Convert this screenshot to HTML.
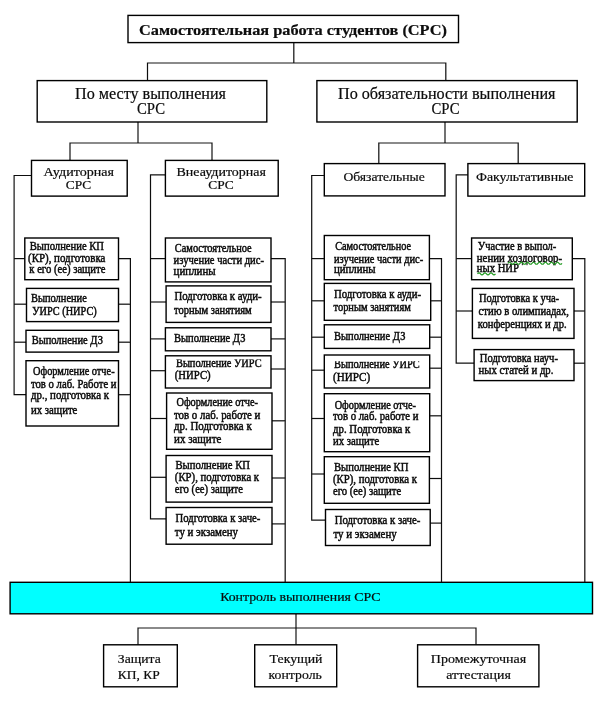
<!DOCTYPE html>
<html lang="ru"><head><meta charset="utf-8"><title>СРС</title>
<style>
html,body{margin:0;padding:0;background:#fff}
svg{display:block}
text{font-family:"Liberation Serif",serif;fill:#0a0a0a;stroke:#0a0a0a;stroke-width:.2}
text.s{stroke-width:.45}
.b{fill:#fff;stroke:#000;stroke-width:1.4}
.l{fill:none;stroke:#111;stroke-width:1.2}
</style></head><body>
<svg width="605" height="706" viewBox="0 0 605 706">
<rect width="605" height="706" fill="#fff"/>
<filter id="soft" x="0" y="0" width="605" height="706" filterUnits="userSpaceOnUse"><feGaussianBlur stdDeviation="0.35"/></filter>
<g filter="url(#soft)">
<polyline class="l" points="293.8,42.6 293.8,63.0"/>
<polyline class="l" points="147.5,80.6 147.5,63.0 445.8,63.0 445.8,80.6"/>
<polyline class="l" points="138.0,122.0 138.0,143.0"/>
<polyline class="l" points="70.0,160.4 70.0,143.0 212.0,143.0 212.0,160.4"/>
<polyline class="l" points="445.0,122.0 445.0,143.0"/>
<polyline class="l" points="378.8,163.6 378.8,143.0 518.2,143.0 518.2,163.6"/>
<polyline class="l" points="31.5,175.5 14.1,175.5 14.1,394.7 26.0,394.7"/>
<polyline class="l" points="118.5,258.6 130.4,258.6 130.4,582.2"/>
<polyline class="l" points="14.1,258.6 24.8,258.6"/>
<polyline class="l" points="14.1,304.2 26.5,304.2"/>
<polyline class="l" points="118.5,304.2 130.4,304.2"/>
<polyline class="l" points="14.1,342.2 26.0,342.2"/>
<polyline class="l" points="118.5,342.2 130.4,342.2"/>
<polyline class="l" points="118.5,394.7 130.4,394.7"/>
<polyline class="l" points="165.4,174.8 150.5,174.8 150.5,518.9 166.1,518.9"/>
<polyline class="l" points="271.0,258.6 285.2,258.6 285.2,582.2"/>
<polyline class="l" points="150.5,258.6 165.4,258.6"/>
<polyline class="l" points="150.5,302.0 166.1,302.0"/>
<polyline class="l" points="271.0,302.0 285.2,302.0"/>
<polyline class="l" points="150.5,338.9 165.4,338.9"/>
<polyline class="l" points="271.0,338.9 285.2,338.9"/>
<polyline class="l" points="150.5,370.7 165.4,370.7"/>
<polyline class="l" points="271.0,369.0 285.2,369.0"/>
<polyline class="l" points="150.5,418.5 166.6,418.5"/>
<polyline class="l" points="272.0,420.8 285.2,420.8"/>
<polyline class="l" points="150.5,477.3 166.1,477.3"/>
<polyline class="l" points="272.0,478.0 285.2,478.0"/>
<polyline class="l" points="272.0,523.9 285.2,523.9"/>
<polyline class="l" points="324.3,175.5 311.7,175.5 311.7,520.2 325.5,520.2"/>
<polyline class="l" points="429.4,258.6 441.5,258.6 441.5,582.2"/>
<polyline class="l" points="311.7,258.6 324.3,258.6"/>
<polyline class="l" points="311.7,300.8 324.3,300.8"/>
<polyline class="l" points="430.7,300.8 441.5,300.8"/>
<polyline class="l" points="311.7,337.2 324.3,337.2"/>
<polyline class="l" points="429.7,337.2 441.5,337.2"/>
<polyline class="l" points="311.7,370.2 324.3,370.2"/>
<polyline class="l" points="429.7,368.2 441.5,368.2"/>
<polyline class="l" points="311.7,418.5 324.3,418.5"/>
<polyline class="l" points="429.7,415.8 441.5,415.8"/>
<polyline class="l" points="311.7,474.0 324.3,474.0"/>
<polyline class="l" points="429.4,478.5 441.5,478.5"/>
<polyline class="l" points="430.2,523.1 441.5,523.1"/>
<polyline class="l" points="467.9,174.8 456.2,174.8 456.2,363.2 474.1,363.2"/>
<polyline class="l" points="572.3,258.6 584.8,258.6 584.8,582.2"/>
<polyline class="l" points="456.2,258.6 471.6,258.6"/>
<polyline class="l" points="456.2,311.0 472.4,311.0"/>
<polyline class="l" points="574.0,311.0 584.8,311.0"/>
<polyline class="l" points="574.0,363.2 584.8,363.2"/>
<polyline class="l" points="296.0,614.1 296.0,644.8"/>
<polyline class="l" points="138.0,644.8 138.0,628.0 476.0,628.0 476.0,644.8"/>
<rect x="10.1" y="582.3" width="582.4" height="31.5" fill="#00ffff" stroke="#000" stroke-width="1.4"/>
<text x="220.2" y="601" font-size="13.2" textLength="160.4" lengthAdjust="spacingAndGlyphs">Контроль выполнения СРС</text>
<rect class="b" x="128.0" y="15.4" width="330.5" height="27.2"/>
<rect class="b" x="37.2" y="80.6" width="229.6" height="41.4"/>
<rect class="b" x="316.9" y="80.6" width="260.3" height="41.4"/>
<rect class="b" x="31.5" y="160.4" width="95.7" height="35.7"/>
<rect class="b" x="165.4" y="160.4" width="112.8" height="35.7"/>
<rect class="b" x="324.3" y="163.6" width="120.7" height="32.3"/>
<rect class="b" x="467.9" y="163.6" width="116.8" height="32.5"/>
<rect class="b" x="24.8" y="238.0" width="93.7" height="41.7"/>
<rect class="b" x="26.5" y="288.4" width="92.0" height="33.2"/>
<rect class="b" x="26.0" y="330.3" width="92.5" height="21.8"/>
<rect class="b" x="26.0" y="360.7" width="92.5" height="65.3"/>
<rect class="b" x="165.4" y="238.0" width="105.6" height="43.9"/>
<rect class="b" x="166.1" y="285.9" width="104.9" height="36.5"/>
<rect class="b" x="165.4" y="327.8" width="105.6" height="23.0"/>
<rect class="b" x="165.4" y="355.8" width="105.6" height="32.2"/>
<rect class="b" x="166.6" y="393.0" width="105.4" height="56.3"/>
<rect class="b" x="166.1" y="455.5" width="105.9" height="46.6"/>
<rect class="b" x="166.1" y="507.5" width="105.9" height="36.7"/>
<rect class="b" x="324.3" y="235.5" width="105.1" height="44.2"/>
<rect class="b" x="324.3" y="283.4" width="106.4" height="36.9"/>
<rect class="b" x="324.3" y="324.8" width="105.4" height="23.6"/>
<rect class="b" x="324.3" y="355.0" width="105.4" height="33.0"/>
<rect class="b" x="324.3" y="393.7" width="105.4" height="58.0"/>
<rect class="b" x="324.3" y="456.7" width="105.1" height="46.6"/>
<rect class="b" x="325.5" y="509.5" width="104.7" height="36.0"/>
<rect class="b" x="471.6" y="238.0" width="100.7" height="41.7"/>
<rect class="b" x="472.4" y="288.4" width="101.6" height="50.0"/>
<rect class="b" x="474.1" y="349.6" width="99.9" height="31.0"/>
<rect class="b" x="103.6" y="644.8" width="73.7" height="42.0"/>
<rect class="b" x="254.7" y="644.8" width="82.0" height="42.0"/>
<rect class="b" x="417.6" y="644.8" width="121.3" height="42.0"/>
<text x="139.0" y="35.1" font-size="15.5" font-weight="bold" textLength="308.0" lengthAdjust="spacingAndGlyphs">Самостоятельная работа студентов (СРС)</text>
<text x="75.0" y="98.6" font-size="16" textLength="151.0" lengthAdjust="spacingAndGlyphs">По месту выполнения</text>
<text x="137.0" y="114.3" font-size="16" textLength="28.0" lengthAdjust="spacingAndGlyphs">СРС</text>
<text x="338.0" y="98.6" font-size="16" textLength="217.5" lengthAdjust="spacingAndGlyphs">По обязательности выполнения</text>
<text x="431.5" y="114.3" font-size="16" textLength="28.0" lengthAdjust="spacingAndGlyphs">СРС</text>
<text x="43.4" y="176.0" font-size="13.5" textLength="70.6" lengthAdjust="spacingAndGlyphs">Аудиторная</text>
<text x="65.7" y="189.0" font-size="13.5" textLength="25.5" lengthAdjust="spacingAndGlyphs">СРС</text>
<text x="176.5" y="176.0" font-size="13.5" textLength="89.5" lengthAdjust="spacingAndGlyphs">Внеаудиторная</text>
<text x="208.3" y="189.0" font-size="13.5" textLength="25.5" lengthAdjust="spacingAndGlyphs">СРС</text>
<text x="343.4" y="180.5" font-size="13.5" textLength="81.3" lengthAdjust="spacingAndGlyphs">Обязательные</text>
<text x="476.0" y="180.5" font-size="13.5" textLength="97.5" lengthAdjust="spacingAndGlyphs">Факультативные</text>
<text x="29.8" y="250.4" font-size="11.5" class="s" textLength="74.2" lengthAdjust="spacingAndGlyphs">Выполнение КП</text>
<text x="28.0" y="261.6" font-size="11.5" class="s" textLength="77.4" lengthAdjust="spacingAndGlyphs">(КР), подготовка</text>
<text x="29.3" y="272.7" font-size="11.5" class="s" textLength="76.1" lengthAdjust="spacingAndGlyphs">к его (ее) защите</text>
<text x="31.0" y="301.7" font-size="11.5" class="s" textLength="55.8" lengthAdjust="spacingAndGlyphs">Выполнение</text>
<text x="32.2" y="314.9" font-size="11.5" class="s" textLength="64.5" lengthAdjust="spacingAndGlyphs">УИРС (НИРС)</text>
<text x="31.7" y="344.1" font-size="11.5" class="s" textLength="71.2" lengthAdjust="spacingAndGlyphs">Выполнение ДЗ</text>
<text x="33.0" y="375.1" font-size="11.5" class="s" textLength="81.6" lengthAdjust="spacingAndGlyphs">Оформление отче-</text>
<text x="31.0" y="387.5" font-size="11.5" class="s" textLength="85.5" lengthAdjust="spacingAndGlyphs">тов о лаб. Работе и</text>
<text x="31.0" y="399.2" font-size="11.5" class="s" textLength="78.0" lengthAdjust="spacingAndGlyphs">др., подготовка к</text>
<text x="31.0" y="414.0" font-size="11.5" class="s" textLength="46.4" lengthAdjust="spacingAndGlyphs">их защите</text>
<text x="174.8" y="252.2" font-size="11.5" class="s" textLength="76.9" lengthAdjust="spacingAndGlyphs">Самостоятельное</text>
<text x="173.6" y="264.0" font-size="11.5" class="s" textLength="90.4" lengthAdjust="spacingAndGlyphs">изучение части дис-</text>
<text x="173.6" y="274.7" font-size="11.5" class="s" textLength="42.1" lengthAdjust="spacingAndGlyphs">циплины</text>
<text x="174.5" y="300.0" font-size="11.5" class="s" textLength="87.1" lengthAdjust="spacingAndGlyphs">Подготовка к ауди-</text>
<text x="174.0" y="314.4" font-size="11.5" class="s" textLength="77.7" lengthAdjust="spacingAndGlyphs">торным занятиям</text>
<text x="174.0" y="341.7" font-size="11.5" class="s" textLength="71.5" lengthAdjust="spacingAndGlyphs">Выполнение ДЗ</text>
<clipPath id="c1"><rect x="174.0" y="359.4" width="89.6" height="20"/></clipPath>
<text x="176.0" y="366.5" font-size="11.5" class="s" clip-path="url(#c1)" textLength="85.6" lengthAdjust="spacingAndGlyphs">Выполнение УИРС</text>
<text x="174.8" y="378.8" font-size="11.5" class="s" textLength="35.9" lengthAdjust="spacingAndGlyphs">(НИРС)</text>
<text x="176.5" y="406.1" font-size="11.5" class="s" textLength="81.4" lengthAdjust="spacingAndGlyphs">Оформление отче-</text>
<text x="174.0" y="418.5" font-size="11.5" class="s" textLength="86.3" lengthAdjust="spacingAndGlyphs">тов о лаб. работе и</text>
<text x="174.0" y="430.2" font-size="11.5" class="s" textLength="77.7" lengthAdjust="spacingAndGlyphs">др. Подготовка к</text>
<text x="174.0" y="442.6" font-size="11.5" class="s" textLength="47.4" lengthAdjust="spacingAndGlyphs">их защите</text>
<text x="175.5" y="469.3" font-size="11.5" class="s" textLength="74.5" lengthAdjust="spacingAndGlyphs">Выполнение КП</text>
<text x="174.8" y="481.0" font-size="11.5" class="s" textLength="84.3" lengthAdjust="spacingAndGlyphs">(КР), подготовка к</text>
<text x="174.8" y="492.6" font-size="11.5" class="s" textLength="68.2" lengthAdjust="spacingAndGlyphs">его (ее) защите</text>
<text x="175.5" y="521.9" font-size="11.5" class="s" textLength="84.8" lengthAdjust="spacingAndGlyphs">Подготовка к заче-</text>
<text x="174.8" y="536.3" font-size="11.5" class="s" textLength="63.2" lengthAdjust="spacingAndGlyphs">ту и экзамену</text>
<text x="335.2" y="249.7" font-size="11.5" class="s" textLength="75.9" lengthAdjust="spacingAndGlyphs">Самостоятельное</text>
<text x="334.0" y="262.8" font-size="11.5" class="s" textLength="89.2" lengthAdjust="spacingAndGlyphs">изучение части дис-</text>
<text x="334.0" y="272.7" font-size="11.5" class="s" textLength="41.6" lengthAdjust="spacingAndGlyphs">циплины</text>
<text x="334.0" y="298.0" font-size="11.5" class="s" textLength="87.0" lengthAdjust="spacingAndGlyphs">Подготовка к ауди-</text>
<text x="333.5" y="311.2" font-size="11.5" class="s" textLength="77.3" lengthAdjust="spacingAndGlyphs">торным занятиям</text>
<text x="334.0" y="339.7" font-size="11.5" class="s" textLength="71.4" lengthAdjust="spacingAndGlyphs">Выполнение ДЗ</text>
<clipPath id="c2"><rect x="332.0" y="361.2" width="89.8" height="20"/></clipPath>
<text x="334.0" y="368.0" font-size="11.5" class="s" clip-path="url(#c2)" textLength="85.8" lengthAdjust="spacingAndGlyphs">Выполнение УИРС</text>
<text x="333.0" y="380.6" font-size="11.5" class="s" textLength="37.2" lengthAdjust="spacingAndGlyphs">(НИРС)</text>
<text x="334.7" y="409.1" font-size="11.5" class="s" textLength="81.3" lengthAdjust="spacingAndGlyphs">Оформление отче-</text>
<text x="333.0" y="420.3" font-size="11.5" class="s" textLength="85.5" lengthAdjust="spacingAndGlyphs">тов о лаб. работе и</text>
<text x="333.0" y="432.7" font-size="11.5" class="s" textLength="77.3" lengthAdjust="spacingAndGlyphs">др. Подготовка к</text>
<text x="333.0" y="445.0" font-size="11.5" class="s" textLength="46.3" lengthAdjust="spacingAndGlyphs">их защите</text>
<text x="334.0" y="471.1" font-size="11.5" class="s" textLength="74.4" lengthAdjust="spacingAndGlyphs">Выполнение КП</text>
<text x="333.0" y="483.0" font-size="11.5" class="s" textLength="84.0" lengthAdjust="spacingAndGlyphs">(КР), подготовка к</text>
<text x="333.0" y="495.1" font-size="11.5" class="s" textLength="68.2" lengthAdjust="spacingAndGlyphs">его (ее) защите</text>
<text x="334.7" y="523.9" font-size="11.5" class="s" textLength="85.6" lengthAdjust="spacingAndGlyphs">Подготовка к заче-</text>
<text x="333.5" y="538.0" font-size="11.5" class="s" textLength="63.2" lengthAdjust="spacingAndGlyphs">ту и экзамену</text>
<text x="477.8" y="250.4" font-size="11.5" class="s" textLength="78.4" lengthAdjust="spacingAndGlyphs">Участие в выпол-</text>
<text x="476.8" y="261.6" font-size="11.5" class="s" textLength="85.3" lengthAdjust="spacingAndGlyphs">нении хоздоговор-</text>
<text x="476.8" y="272.2" font-size="11.5" class="s" textLength="42.2" lengthAdjust="spacingAndGlyphs">ных НИР</text>
<text x="479.0" y="301.7" font-size="11.5" class="s" textLength="80.1" lengthAdjust="spacingAndGlyphs">Подготовка к уча-</text>
<text x="478.6" y="314.5" font-size="11.5" class="s" textLength="90.4" lengthAdjust="spacingAndGlyphs">стию в олимпиадах,</text>
<text x="477.8" y="328.0" font-size="11.5" class="s" textLength="88.8" lengthAdjust="spacingAndGlyphs">конференциях и др.</text>
<text x="479.8" y="361.5" font-size="11.5" class="s" textLength="78.1" lengthAdjust="spacingAndGlyphs">Подготовка науч-</text>
<text x="478.6" y="373.6" font-size="11.5" class="s" textLength="74.8" lengthAdjust="spacingAndGlyphs">ных статей и др.</text>
<text x="117.8" y="662.6" font-size="13.5" textLength="42.9" lengthAdjust="spacingAndGlyphs">Защита</text>
<text x="117.8" y="679.2" font-size="13.5" textLength="42.0" lengthAdjust="spacingAndGlyphs">КП, КР</text>
<text x="269.6" y="662.6" font-size="13.5" textLength="52.9" lengthAdjust="spacingAndGlyphs">Текущий</text>
<text x="268.6" y="679.2" font-size="13.5" textLength="53.2" lengthAdjust="spacingAndGlyphs">контроль</text>
<text x="430.8" y="662.6" font-size="13.5" textLength="95.5" lengthAdjust="spacingAndGlyphs">Промежуточная</text>
<text x="446.3" y="679.2" font-size="13.5" textLength="64.5" lengthAdjust="spacingAndGlyphs">аттестация</text>
<path d="M508,263.3 q1.5,-2 3,0 t3,0 t3,0 t3,0 t3,0 t3,0 t3,0 t3,0 t3,0 t3,0 t3,0 t3,0 t3,0 t3,0 t3,0 t3,0 t3,0 t3,0" fill="none" stroke="#1f9a1f" stroke-width="1.1"/>
<path d="M477.5,273.9 q1.5,-2 3,0 t3,0 t3,0 t3,0 t3,0 t3,0" fill="none" stroke="#1f9a1f" stroke-width="1.1"/>
</g>
</svg>
</body></html>
